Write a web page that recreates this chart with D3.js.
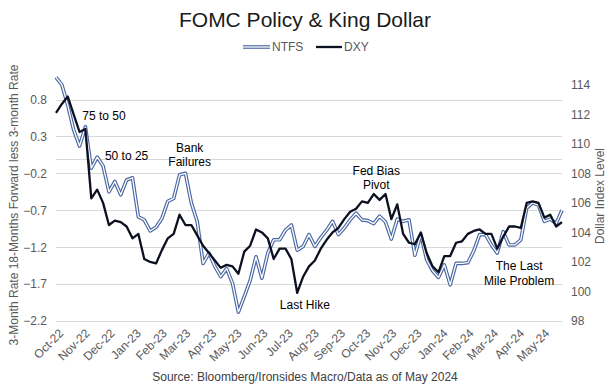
<!DOCTYPE html>
<html>
<head>
<meta charset="utf-8">
<script src="https://cdn.jsdelivr.net/npm/d3@7"></script>
<style>
    body { margin: 0; background: #fff; }
    text { font-family: "Liberation Sans", Arial, sans-serif; }
</style>
</head>
<body>
<script>

// weekly observations, first one on 30 Sep 2022
var startDate = "2022-09-30";

var ntfs = [1.10, 1.00, 0.72, 0.39, 0.17, 0.43, -0.13, 0.02, -0.10, -0.45,
    -0.31, -0.49, -0.29, -0.26, -0.79, -0.83, -0.98, -0.93, -0.81, -0.58,
    -0.54, -0.22, -0.20, -0.60, -0.85, -1.42, -1.28, -1.46, -1.60, -1.49,
    -1.69, -2.08, -1.87, -1.65, -1.33, -1.62, -1.28, -1.10, -1.10, -0.97,
    -0.90, -1.24, -1.19, -1.03, -1.19, -1.07, -0.97, -0.85, -1.03, -0.94,
    -0.83, -0.74, -0.83, -0.84, -0.88, -0.78, -0.86, -1.09, -0.82, -0.85,
    -0.83, -1.31, -1.03, -1.37, -1.52, -1.61, -1.44, -1.71, -1.42, -1.42,
    -1.41, -1.25, -1.03, -1.03, -1.17, -1.28, -0.99, -1.17, -1.17, -1.10,
    -0.67, -0.60, -0.63, -0.85, -0.82, -0.88, -0.70];

var dxy = [112.1, 112.7, 113.2, 112.0, 110.8, 111.0, 106.3, 106.9, 106.0, 104.5,
    104.8, 104.7, 104.4, 103.6, 103.9, 102.2, 102.0, 101.9, 102.8, 103.6,
    103.9, 105.2, 104.5, 104.5, 103.8, 103.1, 102.6, 102.1, 101.6, 101.8,
    101.7, 101.2, 102.7, 103.1, 104.2, 104.0, 103.6, 102.2, 102.9, 102.9,
    102.2, 99.9, 101.0, 101.7, 102.1, 102.9, 103.5, 104.0, 104.3, 104.9,
    105.4, 105.6, 106.1, 106.0, 106.6, 106.2, 106.6, 104.9, 105.9, 103.9,
    103.3, 103.2, 104.0, 102.6, 101.7, 101.3, 102.4, 102.4, 103.3, 103.4,
    103.9, 104.1, 104.2, 103.9, 103.9, 102.9, 103.7, 104.4, 104.4, 104.3,
    106.0, 106.1, 106.0, 105.0, 105.2, 104.4, 104.7];

var leftTicks = [0.8, 0.3, -0.2, -0.7, -1.2, -1.7, -2.2];
var rightTicks = [98, 100, 102, 104, 106, 108, 110, 112, 114];

// annotation text, placed at a date and a value on the left axis
var notes = [
    { lines: ["75 to 50"], date: "2022-11-26", value: 0.52 },
    { lines: ["50 to 25"], date: "2022-12-23", value: -0.02 },
    { lines: ["Bank", "Failures"], date: "2023-03-08", value: 0.09 },
    { lines: ["Last Hike"], date: "2023-07-23", value: -2.04 },
    { lines: ["Fed Bias", "Pivot"], date: "2023-10-16", value: -0.22 },
    { lines: ["The Last", "Mile Problem"], date: "2024-04-03", value: -1.51 }
];

var width = 611, height = 386;
var plot = { left: 56, right: 562, top: 70, bottom: 321 };

var parse = d3.timeParse("%Y-%m-%d");
var dates = ntfs.map(function (d, i) { return d3.timeWeek.offset(parse(startDate), i); });

var svg = d3.select("body").append("svg")
    .attr("width", width)
    .attr("height", height);

var x = d3.scaleTime()
    .domain([dates[0], dates[dates.length - 1]])
    .range([plot.left, plot.right]);

var yL = d3.scaleLinear()
    .domain([-2.2, 1.2])
    .range([plot.bottom, plot.top]);

var yR = d3.scaleLinear()
    .domain([98, 115])
    .range([plot.bottom, plot.top]);

// gridlines
svg.append("g")
    .selectAll("line")
    .data(leftTicks)
    .enter().append("line")
    .attr("x1", plot.left)
    .attr("x2", plot.right)
    .attr("y1", function (d) { return Math.round(yL(d)) + 0.5; })
    .attr("y2", function (d) { return Math.round(yL(d)) + 0.5; })
    .style("stroke", "#d9d9d9")
    .style("stroke-width", 1);

// category axis line crosses at zero
svg.append("line")
    .attr("x1", plot.left)
    .attr("x2", plot.right)
    .attr("y1", Math.round(yL(0)) + 0.5)
    .attr("y2", Math.round(yL(0)) + 0.5)
    .style("stroke", "#d9d9d9");

var yAxisL = d3.axisLeft(yL)
    .tickValues(leftTicks)
    .tickFormat(d3.format(".1f"))
    .tickSize(0)
    .tickPadding(9);

var gl = svg.append("g")
    .attr("transform", "translate(" + plot.left + ",0)")
    .call(yAxisL);
gl.select(".domain").remove();
gl.selectAll("text")
    .style("font-size", "12px")
    .style("fill", "#595959");

var yAxisR = d3.axisRight(yR)
    .tickValues(rightTicks)
    .tickSize(0)
    .tickPadding(9);

var gr = svg.append("g")
    .attr("transform", "translate(" + plot.right + ",0)")
    .call(yAxisR);
gr.select(".domain").remove();
gr.selectAll("text")
    .style("font-size", "12px")
    .style("fill", "#595959");

// month labels, rotated
var months = d3.timeMonth.range(d3.timeMonth.ceil(dates[0]), dates[dates.length - 1]);

var xAxis = d3.axisBottom(x)
    .tickValues(months)
    .tickFormat(d3.timeFormat("%b-%y"))
    .tickSize(0)
    .tickPadding(0);

var gx = svg.append("g")
    .attr("transform", "translate(0," + plot.bottom + ")")
    .call(xAxis);
gx.select(".domain").remove();
gx.selectAll("text")
    .style("font-size", "12px")
    .style("fill", "#595959")
    .style("text-anchor", "end")
    .attr("dy", "0.35em")
    .attr("y", 0)
    .attr("transform", "translate(4,10) rotate(-45)");

// lines
var lineL = d3.line()
    .x(function (d, i) { return x(dates[i]); })
    .y(function (d) { return yL(d); });

var lineR = d3.line()
    .x(function (d, i) { return x(dates[i]); })
    .y(function (d) { return yR(d); });

svg.append("path")
    .attr("d", lineL(ntfs))
    .style("fill", "none")
    .style("stroke", "#4a67a3")
    .style("stroke-width", 3.6)
    .style("stroke-linejoin", "round");

svg.append("path")
    .attr("d", lineL(ntfs))
    .style("fill", "none")
    .style("stroke", "#ffffff")
    .style("stroke-width", 1.3)
    .style("stroke-linejoin", "round");

svg.append("path")
    .attr("d", lineR(dxy))
    .style("fill", "none")
    .style("stroke", "#0c1020")
    .style("stroke-width", 2.3)
    .style("stroke-linejoin", "round");

// annotations
notes.forEach(function (n) {
    var nx = x(parse(n.date));
    var t = svg.append("text")
        .attr("x", nx)
        .attr("y", yL(n.value))
        .style("font-size", "12px")
        .style("fill", "#000")
        .style("text-anchor", "middle");
    n.lines.forEach(function (s, j) {
        t.append("tspan")
            .attr("x", nx)
            .attr("dy", j == 0 ? 0 : 14.5)
            .text(s);
    });
});

// title and legend
svg.append("text")
    .attr("x", 305)
    .attr("y", 27)
    .style("font-size", "21px")
    .style("fill", "#1a1a1a")
    .style("text-anchor", "middle")
    .text("FOMC Policy & King Dollar");

var legend = svg.append("g").attr("transform", "translate(243,47)");

legend.append("line")
    .attr("x1", 0).attr("x2", 27)
    .style("stroke", "#4a67a3").style("stroke-width", 3.6);
legend.append("line")
    .attr("x1", 0).attr("x2", 27)
    .style("stroke", "#fff").style("stroke-width", 1.3);
legend.append("text")
    .attr("x", 29).attr("dy", "0.35em")
    .style("font-size", "12px").style("fill", "#595959")
    .text("NTFS");

legend.append("line")
    .attr("x1", 73).attr("x2", 99)
    .style("stroke", "#0c1020").style("stroke-width", 2.3);
legend.append("text")
    .attr("x", 101).attr("dy", "0.35em")
    .style("font-size", "12px").style("fill", "#595959")
    .text("DXY");

// axis titles
svg.append("text")
    .attr("transform", "translate(18,205) rotate(-90)")
    .style("font-size", "12px")
    .style("fill", "#595959")
    .style("text-anchor", "middle")
    .text("3-Month Rate 18-Months Forward less 3-month Rate");

svg.append("text")
    .attr("transform", "translate(604,196) rotate(-90)")
    .style("font-size", "12px")
    .style("fill", "#595959")
    .style("text-anchor", "middle")
    .text("Dollar Index Level");

svg.append("text")
    .attr("x", 305)
    .attr("y", 381)
    .style("font-size", "12px")
    .style("fill", "#404040")
    .style("text-anchor", "middle")
    .text("Source: Bloomberg/Ironsides Macro/Data as of May 2024");

</script>
</body>
</html>
